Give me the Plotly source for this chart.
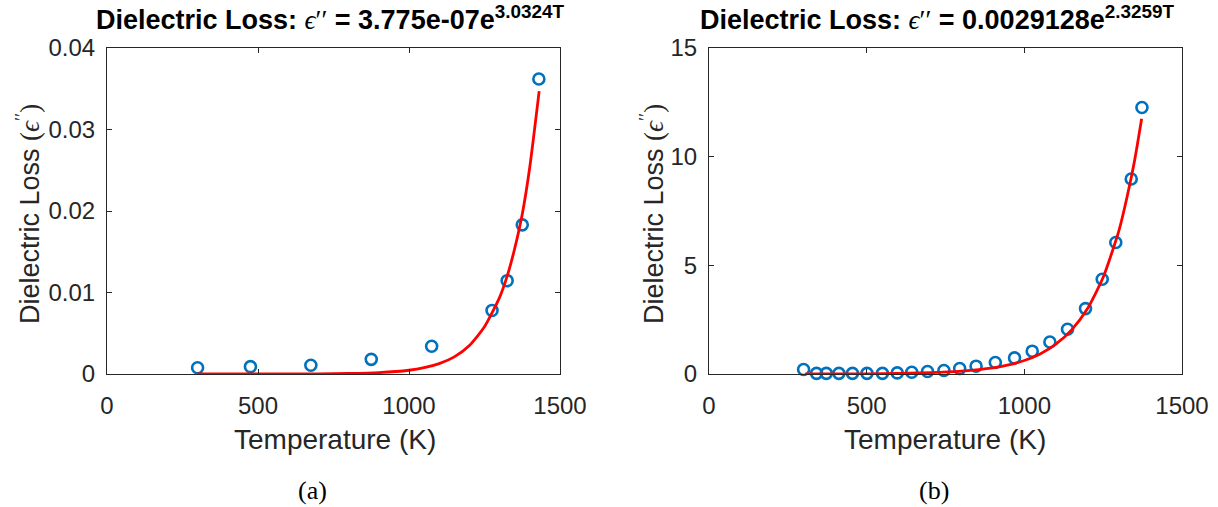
import plotly.graph_objects as go

# Panel (a): measured dielectric loss and fitted exponential
temp_a = [300, 475, 675, 875, 1075, 1275, 1325, 1375, 1430]
loss_a = [0.00077, 0.0009, 0.00107, 0.0018, 0.0034, 0.0078, 0.01145, 0.0183, 0.0362]
fit_temp_a = [300, 500, 700, 800, 900, 1000, 1050, 1100, 1150, 1200, 1250, 1300, 1325, 1350, 1375, 1400, 1431]
fit_loss_a = [0.0, 0.000003, 0.000023, 0.000063, 0.00017, 0.00046, 0.00077, 0.00127, 0.0021,
              0.0035, 0.0058, 0.0094, 0.0120, 0.0154, 0.0196, 0.0254, 0.0347]

# Panel (b): measured dielectric loss and fitted exponential
temp_b = [300, 341, 372, 412, 455, 501, 550, 597, 643, 693, 745, 795, 847, 908, 969,
          1025, 1081, 1137, 1194, 1247, 1290, 1339, 1373]
loss_b = [0.21, 0.03, 0.03, 0.03, 0.03, 0.03, 0.03, 0.05, 0.08, 0.115, 0.16, 0.25, 0.36, 0.53, 0.74,
          1.05, 1.47, 2.06, 3.01, 4.36, 6.05, 8.97, 12.26]
fit_temp_b = [305, 500, 700, 800, 900, 950, 1000, 1050, 1100, 1150, 1200, 1250, 1300, 1325, 1350, 1372]
fit_loss_b = [0.0, 0.01, 0.06, 0.13, 0.28, 0.42, 0.62, 0.92, 1.37, 2.03, 3.0, 4.45, 6.6, 8.1, 9.85, 11.74]

x_ticks = [0, 500, 1000, 1500]
y_ticks_a = [0, 0.01, 0.02, 0.03, 0.04]
y_ticks_b = [0, 5, 10, 15]

W, H = 1218, 507
BLUE = "#0072BD"
AX = "#262626"
SANS = "Liberation Sans, Arial, sans-serif"
SERIF = "Liberation Serif, DejaVu Serif, serif"


def px(x):
    return x / W


def py(y):
    return 1 - y / H


fig = go.Figure()

marker = dict(symbol="circle-open", size=11, color=BLUE, line=dict(width=2.6, color=BLUE))
fit_line = dict(color="#FF0000", width=2.8, shape="spline", smoothing=0.6)

fig.add_trace(go.Scatter(x=temp_a, y=loss_a, mode="markers", marker=marker,
                         cliponaxis=False, xaxis="x", yaxis="y", showlegend=False))
fig.add_trace(go.Scatter(x=fit_temp_a, y=fit_loss_a, mode="lines", line=fit_line,
                         cliponaxis=False, xaxis="x", yaxis="y", showlegend=False))
fig.add_trace(go.Scatter(x=temp_b, y=loss_b, mode="markers", marker=marker,
                         cliponaxis=False, xaxis="x2", yaxis="y2", showlegend=False))
fig.add_trace(go.Scatter(x=fit_temp_b, y=fit_loss_b, mode="lines", line=fit_line,
                         cliponaxis=False, xaxis="x2", yaxis="y2", showlegend=False))

common = dict(showline=True, linecolor=AX, linewidth=1, mirror="ticks", ticks="inside",
              ticklen=5, tickwidth=1, tickcolor=AX, showgrid=False, zeroline=False,
              automargin=False, tickfont=dict(family=SANS, size=24, color=AX))

y_top, y_bot = 48, 374
fig.update_layout(
    width=W, height=H, autosize=False,
    margin=dict(l=0, r=0, t=0, b=0, pad=0),
    paper_bgcolor="white", plot_bgcolor="white",
    xaxis=dict(domain=[px(107), px(560)], range=[0, 1500], tickvals=x_ticks,
               ticklabelstandoff=10, anchor="y", **common),
    yaxis=dict(domain=[py(y_bot), py(y_top)], range=[0, 0.04], tickvals=y_ticks_a,
               ticktext=["0", "0.01", "0.02", "0.03", "0.04"],
               ticklabelstandoff=6, anchor="x", **common),
    xaxis2=dict(domain=[px(709), px(1182)], range=[0, 1500], tickvals=x_ticks,
                ticklabelstandoff=10, anchor="y2", **common),
    yaxis2=dict(domain=[py(y_bot), py(y_top)], range=[0, 15], tickvals=y_ticks_b,
                ticklabelstandoff=6, anchor="x2", **common),
)

eps = "<span style=\"font-family:'Liberation Serif', serif; font-weight:normal\"><i>ϵ</i>′′</span>"
eps_sup = "<span style=\"font-family:'Liberation Serif', serif\">(<i>ϵ</i><sup>′′</sup>)</span>"

titles = [
    (330, f"<b>Dielectric Loss:</b> {eps} <b>= 3.775e-07e<sup>3.0324T</sup></b>"),
    (937, f"<b>Dielectric Loss:</b> {eps} <b>= 0.0029128e<sup>2.3259T</sup></b>"),
]
for cx, txt in titles:
    fig.add_annotation(x=px(cx), y=py(37), xref="paper", yref="paper", text=txt,
                       showarrow=False, xanchor="center", yanchor="bottom",
                       font=dict(family=SANS, size=27, color="black"))

for cx in (335, 945):
    fig.add_annotation(x=px(cx), y=py(422), xref="paper", yref="paper",
                       text="Temperature (K)", showarrow=False,
                       xanchor="center", yanchor="top",
                       font=dict(family=SANS, size=28, color=AX))

for cx in (28, 652):
    fig.add_annotation(x=px(cx), y=py(214), xref="paper", yref="paper",
                       text=f"Dielectric Loss {eps_sup}", textangle=-90, showarrow=False,
                       xanchor="center", yanchor="middle",
                       font=dict(family=SANS, size=27, color=AX))

for cx, lab in ((312, "(a)"), (934, "(b)")):
    fig.add_annotation(x=px(cx), y=py(490), xref="paper", yref="paper", text=lab,
                       showarrow=False, xanchor="center", yanchor="middle",
                       font=dict(family=SERIF, size=26, color="black"))

fig.write_html("out.html")
